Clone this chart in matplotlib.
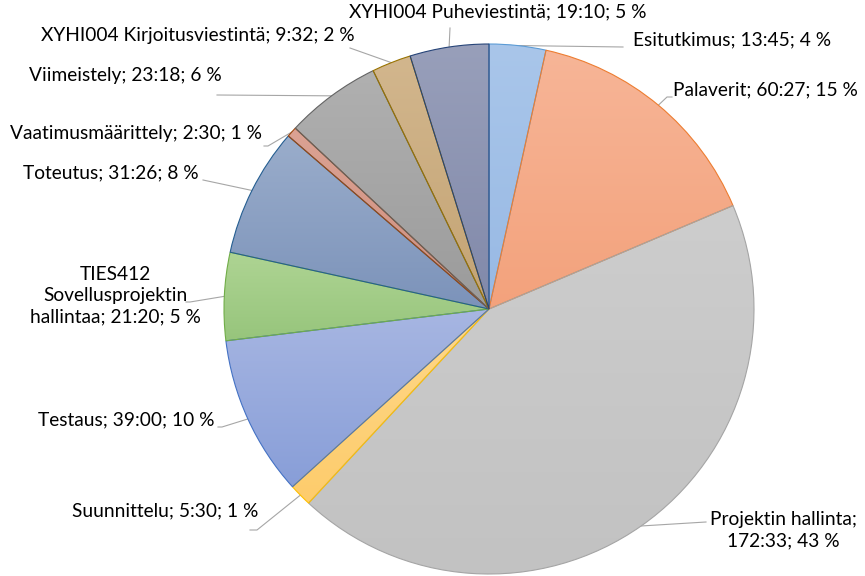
import numpy as np
import matplotlib
matplotlib.use("Agg")
import matplotlib.pyplot as plt
from matplotlib.colors import to_rgb

# data (time spent, h:mm)
categories = ["Esitutkimus", "Palaverit", "Projektin hallinta", "Suunnittelu",
              "Testaus", "TIES412 Sovellusprojektin hallintaa", "Toteutus",
              "Vaatimusmäärittely", "Viimeistely",
              "XYHI004 Kirjoitusviestintä", "XYHI004 Puheviestintä"]
times = ["13:45", "60:27", "172:33", "5:30", "39:00", "21:20", "31:26",
         "2:30", "23:18", "9:32", "19:10"]
percents = [4, 15, 43, 1, 10, 5, 8, 1, 6, 2, 5]

minutes = [int(t.split(":")[0]) * 60 + int(t.split(":")[1]) for t in times]

# fill gradient (top, bottom) and edge colours
tops = ["#a9c6ea", "#f7b597", "#cdcdcd", "#ffd889", "#a7b6e2", "#aed493",
        "#9aadcb", "#dba293", "#b0b0b0", "#d2b68d", "#989fba"]
bottoms = ["#98b9e4", "#f3a27c", "#c2c2c2", "#fdcc6c", "#889ed8", "#97c57c",
           "#7c93ba", "#cf8f7e", "#9b9b9b", "#c4a474", "#8189aa"]
edges = ["#5b9bd5", "#ed7d31", "#a5a5a5", "#ffc000", "#4472c4", "#70ad47",
         "#255e91", "#9e480e", "#636363", "#997300", "#264478"]

W, H = 865, 576
cx, cy, R = 489, H - 309, 265

fig = plt.figure(figsize=(8.65, 5.76), dpi=100)
ax = fig.add_axes([0, 0, 1, 1])

wedges, _ = ax.pie(minutes, startangle=90, counterclock=False, radius=R,
                   center=(cx, cy), colors=tops,
                   wedgeprops=dict(linewidth=0.8))

for w, c1, c2, ec in zip(wedges, tops, bottoms, edges):
    w.set_edgecolor(ec)
    w.set_facecolor("none")
    w.set_zorder(3)
    ext = w.get_path().get_extents()
    t = np.linspace(0, 1, 64)[:, None]
    grad = (1 - t) * np.array(to_rgb(c1)) + t * np.array(to_rgb(c2))
    im = ax.imshow(grad[:, None, :], extent=(ext.x0, ext.x1, ext.y0, ext.y1),
                   origin="upper", aspect="auto", zorder=2, interpolation="bilinear")
    im.set_clip_path(w)

# label layout in pixel coords (top-left origin): text x, text y, ha, leader points
layout = [
    (633, 40, "left", [(623, 47)]),
    (673, 90, "left", [(667, 97), (672, 97)]),
    (783, 530, "center", [(706, 522)]),
    (258, 511, "right", [(257, 530), (250, 530)]),
    (215, 420, "right", [(222, 427), (218, 427)]),
    (115, 296, "center", [(190, 302), (186, 302)]),
    (199, 173, "right", [(203, 180)]),
    (262, 133, "right", [(268, 146), (264, 146)]),
    (222, 76, "right", [(217, 95)]),
    (355, 35, "right", [(350, 48)]),
    (498, 12, "center", [(450, 28)]),
]

fracs = np.array(minutes) / sum(minutes)
cum = np.cumsum(fracs) - fracs / 2
labels = []
for name, t, p in zip(categories, times, percents):
    labels.append(f"{name}; {t}; {p} %")
labels[2] = f"Projektin hallinta;\n{times[2]}; {percents[2]} %"
labels[5] = f"TIES412\nSovellusprojektin\nhallintaa; {times[5]}; {percents[5]} %"

for lab, f, (tx, ty, ha, pts) in zip(labels, cum, layout):
    ang = np.deg2rad(90 - f * 360)
    px, py = cx + R * np.cos(ang), cy + R * np.sin(ang)
    xs = [px] + [p[0] for p in pts]
    ys = [py] + [H - p[1] for p in pts]
    ax.plot(xs, ys, color="#a6a6a6", lw=0.8, zorder=1)
    ax.text(tx, H - ty, lab, ha=ha, va="center", fontsize=13.8, family="Lato",
            color="#000000", linespacing=1.3, multialignment="center")

ax.set_xlim(0, W)
ax.set_ylim(0, H)
ax.set_aspect("equal")
ax.axis("off")

fig.savefig("out.png", dpi=100, facecolor="white")
